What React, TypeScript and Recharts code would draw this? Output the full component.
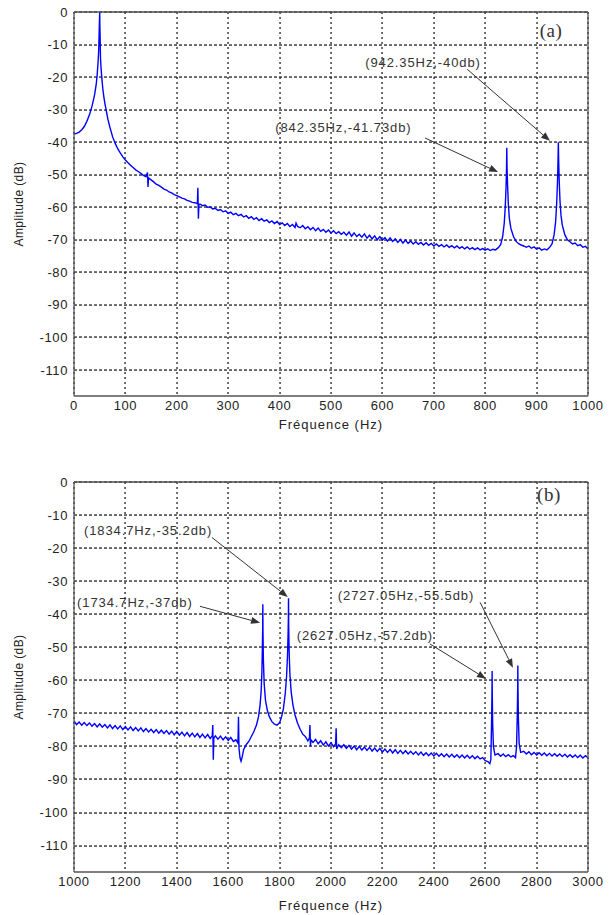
import React from 'react'
import {
  LineChart,
  Line,
  XAxis,
  YAxis,
  ReferenceLine,
  ReferenceDot,
} from 'recharts'

// spectrum (a): [frequency Hz, amplitude dB]
const spectrumA: [number, number][] = [
  [0, -37.5], [5, -37.3], [10, -36.9], [15, -36.2], [20, -35.2], [25, -33.6], [30, -31.6], [35, -29],
  [40, -25.5], [43, -22.5], [45, -19.5], [47, -15], [48, -12], [49, -6], [49.5, -3], [50, 0],
  [50.3, -4], [50.6, -6], [51, -9], [51.5, -14], [52.5, -17], [54, -20], [56, -23.5], [58, -26],
  [60, -28], [63, -30.5], [66, -33], [70, -35.5], [75, -38.3], [80, -40.3], [85, -42], [90, -43.3],
  [95, -44.5], [100, -45.5], [105, -46.3], [110, -47.1], [115, -47.8], [120, -48.5], [125, -49],
  [130, -49.6], [135, -50.2], [140, -50.6], [143, -49.3], [144, -53.8], [145, -51], [150, -51.6],
  [155, -52.2], [160, -52.9], [165, -53.3], [170, -53.8], [175, -54.4], [180, -54.7], [185, -55.3],
  [190, -55.6], [195, -56.1], [200, -56.4], [205, -56.8], [210, -57.2], [215, -57.4], [220, -57.9],
  [225, -58.1], [230, -58.5], [235, -58.6], [240, -58.9], [241, -54], [242, -63.5], [243, -59.2],
  [245, -59], [250, -59.5], [255, -59.3], [260, -60], [265, -59.9], [270, -60.5], [275, -60.3],
  [280, -61], [285, -60.7], [290, -61.4], [295, -61.1], [300, -61.9], [305, -61.5], [310, -62.3],
  [315, -61.9], [320, -62.6], [325, -62.2], [330, -63], [335, -62.6], [340, -63.4], [345, -62.9],
  [350, -63.7], [355, -63.2], [360, -64.1], [365, -63.5], [370, -64.3], [375, -63.9], [380, -64.7],
  [385, -64.2], [390, -65], [395, -64.4], [400, -65.3], [405, -64.8], [410, -65.6], [415, -65],
  [420, -65.9], [425, -65.3], [430, -66.2], [432, -64.9], [435, -65.9], [440, -66.3], [445, -65.6],
  [450, -66.6], [455, -66], [460, -66.9], [465, -66.2], [470, -67.2], [475, -66.4], [480, -67.4],
  [485, -66.8], [490, -67.7], [495, -67], [500, -67.9], [505, -67.2], [510, -68.1], [515, -67.5],
  [520, -68.3], [525, -67.7], [530, -68.6], [535, -67.6], [540, -68.9], [545, -67.9], [550, -69],
  [555, -68.3], [560, -69.2], [565, -68.2], [570, -69.5], [575, -68.6], [580, -69.7], [585, -68.8],
  [590, -70], [595, -69], [600, -70.1], [605, -69.3], [610, -70.4], [615, -69.4], [620, -70.5],
  [625, -69.7], [630, -70.8], [635, -69.9], [640, -71], [645, -70.1], [650, -71.1], [655, -70.4],
  [660, -71.3], [665, -70.6], [670, -71.4], [675, -70.8], [680, -71.6], [685, -70.9], [690, -71.7],
  [695, -71.1], [700, -71.9], [705, -71.3], [710, -72], [715, -71.5], [720, -72.2], [725, -71.6],
  [730, -72.3], [735, -71.8], [740, -72.5], [745, -71.9], [750, -72.6], [755, -72.1], [760, -72.8],
  [765, -72.2], [770, -72.9], [775, -72.4], [780, -73], [785, -72.5], [790, -73.1], [795, -72.7],
  [800, -73.2], [805, -72.8], [810, -73.3], [815, -72.9], [820, -73.1], [825, -72.5], [830, -71.5],
  [834, -69], [837, -65], [839, -60], [840.5, -54], [841.5, -48], [842, -41.7], [842.5, -48],
  [843.5, -53], [845, -59], [847, -63.5], [850, -66.5], [855, -69], [860, -70.5], [865, -71.2],
  [870, -71.6], [875, -71.9], [880, -72.3], [885, -71.9], [890, -72.6], [895, -72.2], [900, -72.9],
  [905, -72.5], [910, -73.2], [915, -72.8], [920, -73.1], [925, -72.4], [930, -71.3], [934, -68.5],
  [937, -64.5], [939, -59], [940.5, -53], [941.5, -47], [942.3, -40], [943, -46], [944, -52],
  [945.5, -58], [947.5, -62.5], [950, -65.5], [955, -68.5], [960, -70], [965, -70.6], [970, -71.3],
  [975, -71], [980, -71.8], [985, -71.5], [990, -72.3], [995, -72], [1000, -72.8],
]

// spectrum (b): [frequency Hz, amplitude dB]
const spectrumB: [number, number][] = [
  [1000, -72.3], [1010, -73.4], [1020, -72.6], [1030, -73.6], [1040, -72.8], [1050, -73.7],
  [1060, -72.9], [1070, -73.9], [1080, -73.1], [1090, -74.1], [1100, -73.2], [1110, -74.2],
  [1120, -73.4], [1130, -74.4], [1140, -73.5], [1150, -74.6], [1160, -73.7], [1170, -74.7],
  [1180, -73.8], [1190, -74.9], [1200, -74], [1210, -75], [1220, -74.1], [1230, -75.2],
  [1240, -74.3], [1250, -75.3], [1260, -74.4], [1270, -75.5], [1280, -74.6], [1290, -75.6],
  [1300, -74.8], [1310, -75.8], [1320, -74.9], [1330, -76], [1340, -75.1], [1350, -76.1],
  [1360, -75.2], [1370, -76.3], [1380, -75.4], [1390, -76.5], [1400, -75.5], [1410, -76.6],
  [1420, -75.7], [1430, -76.8], [1440, -75.8], [1450, -77], [1460, -76], [1470, -77.1],
  [1480, -76.1], [1490, -77.3], [1500, -76.3], [1510, -77.4], [1520, -76.4], [1530, -77.6],
  [1538, -76.8], [1540, -73.5], [1542, -84], [1544, -77.5], [1550, -76.8], [1560, -77.8],
  [1570, -76.9], [1580, -78], [1590, -77.1], [1600, -78.2], [1610, -77.3], [1620, -78.5],
  [1630, -78], [1638, -79], [1640, -71], [1642, -80.5], [1646, -83.5], [1650, -84.5], [1655, -83],
  [1660, -81], [1670, -79.5], [1680, -78.5], [1690, -77], [1700, -75.5], [1710, -73.5], [1718, -71],
  [1724, -67.5], [1728, -63.5], [1731, -58], [1733, -50], [1734.2, -44], [1734.7, -37],
  [1735.3, -45], [1737, -54], [1740, -61], [1745, -66], [1752, -69], [1760, -71], [1770, -72.5],
  [1780, -73.3], [1790, -73.6], [1800, -72.8], [1808, -71], [1815, -68.5], [1822, -64], [1827, -59],
  [1830.5, -53], [1833, -46], [1834.2, -41], [1834.7, -35.2], [1835.3, -43], [1837, -51],
  [1840, -58], [1845, -63.5], [1852, -67.5], [1860, -70.5], [1870, -73], [1880, -74.8],
  [1890, -76.3], [1900, -77], [1910, -78.3], [1916, -77.5], [1918, -73.5], [1920, -80],
  [1922, -78], [1930, -78.8], [1940, -77.9], [1950, -79.2], [1960, -78.3], [1970, -79.6],
  [1980, -78.6], [1990, -79.9], [2000, -78.9], [2010, -80.1], [2018, -79.2], [2020, -74.5],
  [2022, -80.8], [2030, -79.5], [2040, -80.4], [2050, -79.5], [2060, -80.6], [2070, -79.7],
  [2080, -80.8], [2090, -79.9], [2100, -81], [2110, -80], [2120, -81.1], [2130, -80.2],
  [2140, -81.2], [2150, -80.3], [2160, -81.4], [2170, -80.5], [2180, -81.5], [2190, -80.6],
  [2200, -81.7], [2210, -80.8], [2220, -81.8], [2230, -80.9], [2240, -82], [2250, -81],
  [2260, -82.1], [2270, -81.2], [2280, -82.2], [2290, -81.3], [2300, -82.3], [2310, -81.5],
  [2320, -82.4], [2330, -81.6], [2340, -82.6], [2350, -81.7], [2360, -82.7], [2370, -81.9],
  [2380, -82.8], [2390, -82], [2400, -82.9], [2410, -82.1], [2420, -83], [2430, -82.2],
  [2440, -83.1], [2450, -82.3], [2460, -83.2], [2470, -82.4], [2480, -83.3], [2490, -82.5],
  [2500, -83.4], [2510, -82.6], [2520, -83.5], [2530, -82.7], [2540, -83.6], [2550, -82.8],
  [2560, -83.7], [2570, -83], [2580, -83.8], [2590, -83.4], [2600, -84.3], [2610, -84.6],
  [2618, -85.2], [2622, -84], [2625, -72], [2626.5, -63], [2627, -57.2], [2627.5, -64],
  [2629, -73], [2632, -80], [2638, -82.6], [2650, -82.2], [2660, -83], [2670, -82.3],
  [2680, -83.1], [2690, -82.5], [2700, -83.2], [2710, -82.8], [2718, -83.4], [2722, -80],
  [2725, -70], [2726.5, -62], [2727, -55.5], [2727.5, -62], [2729, -71], [2732, -79],
  [2738, -81.8], [2750, -81.5], [2760, -82.3], [2770, -81.6], [2780, -82.5], [2790, -81.8],
  [2800, -82.6], [2810, -81.9], [2820, -82.7], [2830, -82], [2840, -82.8], [2850, -82.1],
  [2860, -82.9], [2870, -82.2], [2880, -83], [2890, -82.3], [2900, -83.1], [2910, -82.4],
  [2920, -83.2], [2930, -82.5], [2940, -83.3], [2950, -82.6], [2960, -83.4], [2970, -82.7],
  [2980, -83.5], [2990, -82.8], [3000, -83.4],
]

const freqTicksA = [0, 100, 200, 300, 400, 500, 600, 700, 800, 900, 1000]
const freqTicksB = [1000, 1200, 1400, 1600, 1800, 2000, 2200, 2400, 2600, 2800, 3000]
const dbTicks = [0, -10, -20, -30, -40, -50, -60, -70, -80, -90, -100, -110]
const dbFloor = -118

type Note = { text: string; at: [number, number]; from: [number, number]; to: [number, number] }

// label text and arrows, positions in (Hz, dB)
const notesA: Note[] = [
  { text: '(942.35Hz,-40db)', at: [679, -15.4], from: [765, -17.6], to: [926, -39.6] },
  { text: '(842.35Hz,-41.73db)', at: [524, -35.6], from: [683, -38.7], to: [825, -49.2] },
]
const notesB: Note[] = [
  { text: '(1834.7Hz,-35.2db)', at: [1288, -14.7], from: [1537, -16.8], to: [1832, -34.8] },
  { text: '(1734.7Hz,-37db)', at: [1237, -36.6], from: [1490, -37.6], to: [1724, -42.6] },
  { text: '(2727.05Hz,-55.5db)', at: [2292, -34.2], from: [2580, -36.4], to: [2708, -56.2] },
  { text: '(2627.05Hz,-57.2db)', at: [2132, -46.5], from: [2385, -49], to: [2603, -59.5] },
]

const LINE = '#0000ff'
const INK = '#333333'
const SANS = '"Liberation Sans", Arial, sans-serif'

function Arrow(props: any) {
  const { x1, y1, x2, y2 } = props
  const dx = x2 - x1
  const dy = y2 - y1
  const len = Math.hypot(dx, dy) || 1
  const ux = dx / len
  const uy = dy / len
  const bx = x2 - ux * 9
  const by = y2 - uy * 9
  return (
    <g>
      <line x1={x1} y1={y1} x2={bx} y2={by} stroke={INK} strokeWidth={1} />
      <polygon
        points={`${x2},${y2} ${bx - uy * 3.5},${by + ux * 3.5} ${bx + uy * 3.5},${by - ux * 3.5}`}
        fill={INK}
      />
    </g>
  )
}

// dotted grid drawn as small filled rects, so the pattern stays crisp
function HGrid(props: any) {
  const { x1, x2, y1 } = props
  const y = Math.round(y1) - 0.6
  const dots = []
  for (let x = Math.min(x1, x2); x < Math.max(x1, x2); x += 5) {
    dots.push(<rect key={x} x={x} y={y} width={3} height={1.3} fill="#222" />)
  }
  return <g>{dots}</g>
}

function VGrid(props: any) {
  const { x1, y1, y2 } = props
  const x = Math.round(x1) - 0.6
  const dots = []
  for (let y = Math.min(y1, y2); y < Math.max(y1, y2); y += 5) {
    dots.push(<rect key={y} x={x} y={y} width={1.3} height={2} fill="#222" />)
  }
  return <g>{dots}</g>
}

function BorderLine(props: any) {
  return <line x1={props.x1} y1={props.y1} x2={props.x2} y2={props.y2} stroke="#555" strokeWidth={1.3} />
}

function textAt(text: string, size: number, family: string, spacing: number) {
  return (p: any) => (
    <text
      x={p.cx}
      y={p.cy}
      textAnchor="middle"
      dominantBaseline="central"
      fontSize={size}
      fontFamily={family}
      letterSpacing={spacing}
      fill={INK}
    >
      {text}
    </text>
  )
}

interface PanelProps {
  data: [number, number][]
  xDomain: [number, number]
  xTicks: number[]
  notes: Note[]
  tag: string
  tagAt: [number, number]
  height: number
  top: number
  axisHeight: number
  titleOffset: number
}

function Panel({ data, xDomain, xTicks, notes, tag, tagAt, height, top, axisHeight, titleOffset }: PanelProps) {
  const rows = data.map(([f, db]) => ({ f, db }))
  const tick = { fontSize: 13, fill: '#222', fontFamily: SANS, letterSpacing: 0.6 }
  const [x0, x1] = xDomain
  return (
    <LineChart width={609} height={height} data={rows} margin={{ top, right: 21, bottom: 0, left: 0 }}>
      <XAxis
        dataKey="f"
        type="number"
        domain={xDomain}
        ticks={xTicks}
        allowDataOverflow
        height={axisHeight}
        tickLine={false}
        axisLine={false}
        tickSize={3}
        tick={tick}
        label={{
          value: 'Fréquence (Hz)',
          position: 'insideBottom',
          offset: titleOffset,
          style: { fontSize: 13, fill: '#222', fontFamily: SANS, letterSpacing: 1 },
        }}
      />
      <YAxis
        type="number"
        domain={[dbFloor, 0]}
        ticks={dbTicks}
        allowDataOverflow
        width={74}
        tickLine={false}
        axisLine={false}
        tickSize={4}
        tick={tick}
        label={{
          value: 'Amplitude (dB)',
          angle: -90,
          position: 'insideLeft',
          offset: 19,
          style: { textAnchor: 'middle', fontSize: 12, fill: '#222', fontFamily: SANS, letterSpacing: 0.4 },
        }}
      />
      {dbTicks.map((t) => (
        <ReferenceLine
          key={'gy' + t}
          segment={[{ x: x0, y: t }, { x: x1, y: t }]}
          ifOverflow="visible"
          shape={HGrid}
        />
      ))}
      {xTicks.map((t) => (
        <ReferenceLine
          key={'gx' + t}
          segment={[{ x: t, y: 0 }, { x: t, y: dbFloor }]}
          ifOverflow="visible"
          shape={VGrid}
        />
      ))}
      <Line
        dataKey="db"
        type="linear"
        stroke={LINE}
        strokeWidth={1.4}
        dot={false}
        activeDot={false}
        isAnimationActive={false}
      />
      <ReferenceLine segment={[{ x: x0, y: 0 }, { x: x1, y: 0 }]} ifOverflow="visible" shape={BorderLine} />
      <ReferenceLine segment={[{ x: x0, y: dbFloor }, { x: x1, y: dbFloor }]} ifOverflow="visible" shape={BorderLine} />
      <ReferenceLine segment={[{ x: x0, y: dbFloor }, { x: x0, y: 0 }]} ifOverflow="visible" shape={BorderLine} />
      <ReferenceLine segment={[{ x: x1, y: dbFloor }, { x: x1, y: 0 }]} ifOverflow="visible" shape={BorderLine} />
      {notes.map((n) => (
        <ReferenceLine
          key={'arrow-' + n.text}
          segment={[
            { x: n.from[0], y: n.from[1] },
            { x: n.to[0], y: n.to[1] },
          ]}
          ifOverflow="visible"
          shape={Arrow}
        />
      ))}
      {notes.map((n) => (
        <ReferenceDot
          key={'text-' + n.text}
          x={n.at[0]}
          y={n.at[1]}
          r={0}
          ifOverflow="visible"
          shape={textAt(n.text, 13, SANS, 0.9)}
        />
      ))}
      <ReferenceDot
        x={tagAt[0]}
        y={tagAt[1]}
        r={0}
        ifOverflow="visible"
        shape={textAt(tag, 19, '"Liberation Serif", "Times New Roman", serif', 0.5)}
      />
    </LineChart>
  )
}

export default function App() {
  return (
    <div style={{ position: 'absolute', left: 0, top: 0, width: 609, height: 915, background: '#fff' }}>
      <div style={{ position: 'absolute', left: 0, top: 0 }}>
        <Panel
          data={spectrumA}
          xDomain={[0, 1000]}
          xTicks={freqTicksA}
          notes={notesA}
          tag="(a)"
          tagAt={[928, -5.8]}
          height={445}
          top={12}
          axisHeight={49}
          titleOffset={16}
        />
      </div>
      <div style={{ position: 'absolute', left: 0, top: 460 }}>
        <Panel
          data={spectrumB}
          xDomain={[1000, 3000]}
          xTicks={freqTicksB}
          notes={notesB}
          tag="(b)"
          tagAt={[2848, -3.9]}
          height={455}
          top={22}
          axisHeight={43}
          titleOffset={5}
        />
      </div>
    </div>
  )
}
